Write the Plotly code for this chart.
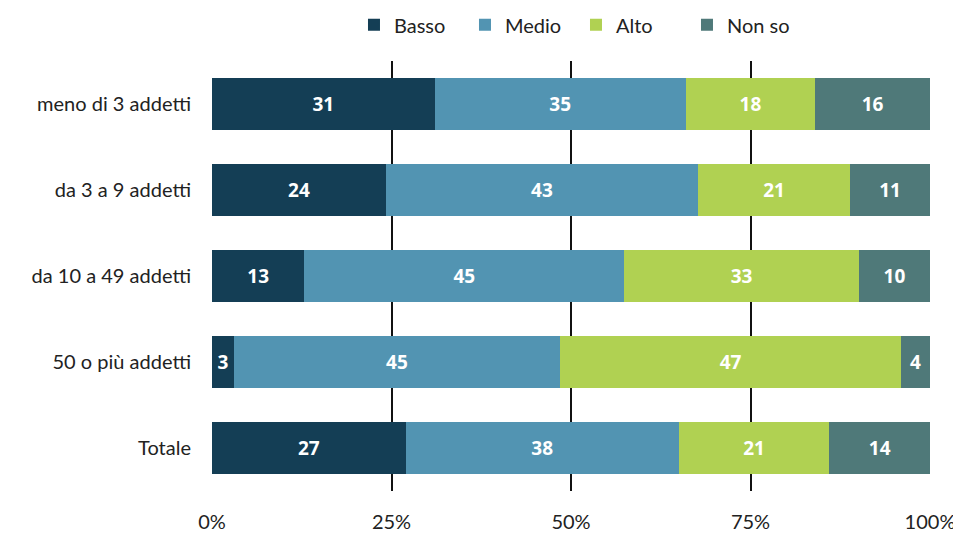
import plotly.graph_objects as go

categories = ["meno di 3 addetti", "da 3 a 9 addetti", "da 10 a 49 addetti", "50 o più addetti", "Totale"]
basso = [31, 24, 13, 3, 27]
medio = [35, 43, 45, 45, 38]
alto = [18, 21, 33, 47, 21]
non_so = [16, 11, 10, 4, 14]
series_names = ["Basso", "Medio", "Alto", "Non so"]
colors = ["#143e55", "#5294b2", "#b0d152", "#4f7979"]
tick_vals = [0, 25, 50, 75, 100]
tick_text = ["0%", "25%", "50%", "75%", "100%"]

fig = go.Figure()
for name, vals, col in zip(series_names, [basso, medio, alto, non_so], colors):
    fig.add_trace(go.Bar(
        y=categories, x=vals, name=name, orientation="h",
        marker=dict(color=col, line=dict(width=0)),
        text=[str(v) for v in vals], textposition="inside",
        insidetextanchor="middle", constraintext="none",
        textfont=dict(family="Open Sans", size=19, color="white", weight="bold"),
        width=0.6,
    ))

fig.update_layout(
    barmode="stack", barnorm="percent",
    width=953, height=526,
    margin=dict(l=204, r=31, t=53, b=43, autoexpand=False),
    paper_bgcolor="white", plot_bgcolor="white",
    font=dict(family="Lato", size=20, color="#222222"),
    showlegend=True,
    legend=dict(orientation="h", x=0.596, xanchor="center", y=0.968, yanchor="middle",
                yref="container", xref="container", font=dict(size=20), traceorder="normal",
                itemwidth=30, entrywidth=66, itemclick=False),
)
fig.update_xaxes(range=[0, 100], tickvals=tick_vals, ticktext=tick_text,
                 showgrid=True, gridcolor="#111111", gridwidth=2,
                 zeroline=False, showline=False, ticks="", automargin=False,
                 ticklabelstandoff=17, fixedrange=True)
fig.update_yaxes(autorange="reversed", showgrid=False, ticks="", automargin=False,
                 ticklabelstandoff=20, fixedrange=True)
fig.write_html("out.html")
